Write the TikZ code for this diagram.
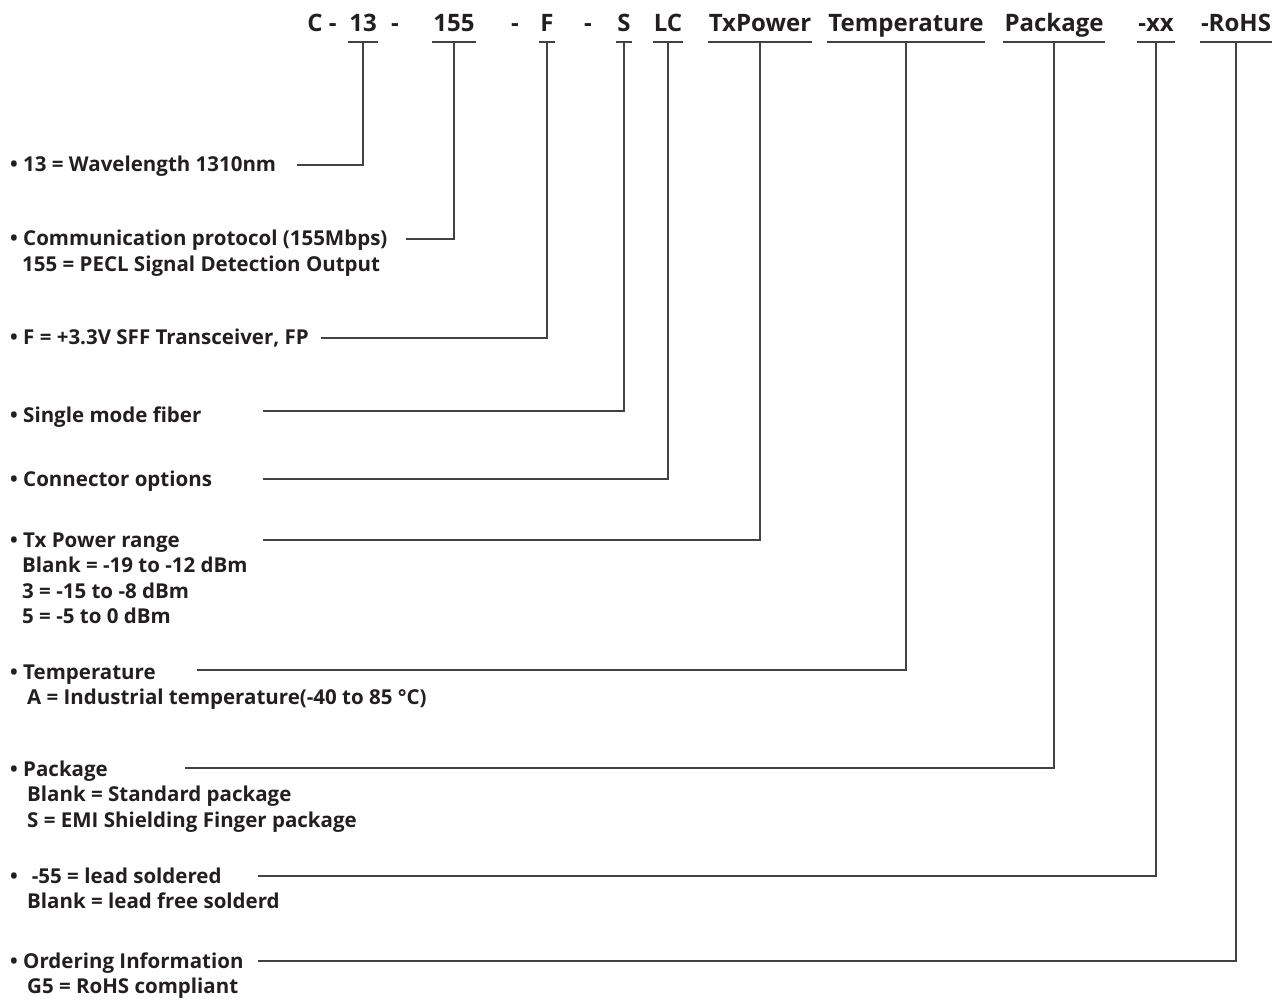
\documentclass[tikz,border=0pt]{standalone}
\usepackage{fontspec}
\setmainfont{Open Sans}
\definecolor{inkcolor}{HTML}{231F20}
\tikzset{
  hdr/.style={font=\fontsize{24}{28}\selectfont\bfseries, text=inkcolor, inner xsep=1pt, inner ysep=0pt, anchor=base},
  desc/.style={font=\fontsize{20.5}{25}\selectfont\bfseries, text=inkcolor, inner sep=0pt, anchor=base west},
  lead/.style={draw=inkcolor!85, line width=1.4pt},
}
\begin{document}
\begin{tikzpicture}[x=1pt,y=-1pt]
\useasboundingbox (0,0) rectangle (1281,999);

% part number
\node[hdr] (hC) at (322,31) {C -};
\node[hdr] (h13) at (363,31) {13};
\node[hdr] (hd1) at (395,31) {-};
\node[hdr] (h155) at (454,31) {155};
\node[hdr] (hd2) at (515,31) {-};
\node[hdr] (hF) at (547,31) {F};
\node[hdr] (hd3) at (588,31) {-};
\node[hdr] (hS) at (624,31) {S};
\node[hdr] (hLC) at (668,31) {LC};
\node[hdr] (hTx) at (760,31) {TxPower};
\node[hdr] (hTemp) at (906,31) {Temperature};
\node[hdr] (hPkg) at (1054,31) {Package};
\node[hdr] (hxx) at (1156,31) {-xx};
\node[hdr] (hRoHS) at (1236,31) {-RoHS};

\foreach \h in {h13,h155,hF,hS,hLC,hTx,hTemp,hPkg,hxx,hRoHS}
  \draw[lead] ([yshift=-11pt]\h.base west) -- ([yshift=-11pt]\h.base east);

% options
\node[desc] (d1) at (10,171) {• 13 = Wavelength 1310nm};
\node[desc] (d2) at (10,245) {• Communication protocol (155Mbps)};
\node[desc] (d2b) at (22,271) {155 = PECL Signal Detection Output};
\node[desc] (d3) at (10,344) {• F = +3.3V SFF Transceiver, FP};
\node[desc] (d4) at (10,422) {• Single mode fiber};
\node[desc] (d5) at (10,486) {• Connector options};
\node[desc] (d6) at (10,547) {• Tx Power range};
\node[desc] (d6b) at (22,572) {Blank = -19 to -12 dBm};
\node[desc] (d6c) at (22,598) {3 = -15 to -8 dBm};
\node[desc] (d6d) at (22,623) {5 = -5 to 0 dBm};
\node[desc] (d7) at (10,679) {• Temperature};
\node[desc] (d7b) at (27,704) {A = Industrial temperature(-40 to 85 °C)};
\node[desc] (d8) at (10,776) {• Package};
\node[desc] (d8b) at (27,801) {Blank = Standard package};
\node[desc] (d8c) at (27,827) {S = EMI Shielding Finger package};
\node[desc] (d9) at (10,883) {•\hspace{14pt}-55 = lead soldered};
\node[desc] (d9b) at (27,908) {Blank = lead free solderd};
\node[desc] (d10) at (10,968) {• Ordering Information};
\node[desc] (d10b) at (27,993) {G5 = RoHS compliant};

% leader lines
\coordinate (s1) at (297,165);
\coordinate (s2) at (406,239);
\coordinate (s3) at (321,338);
\coordinate (s4) at (263,411);
\coordinate (s5) at (263,479);
\coordinate (s6) at (263,540);
\coordinate (s7) at (197,670);
\coordinate (s8) at (185,768);
\coordinate (s9) at (258,876);
\coordinate (s10) at (258,961);
\draw[lead] (s1) -| ([yshift=-11pt]h13.base);
\draw[lead] (s2) -| ([yshift=-11pt]h155.base);
\draw[lead] (s3) -| ([yshift=-11pt]hF.base);
\draw[lead] (s4) -| ([yshift=-11pt]hS.base);
\draw[lead] (s5) -| ([yshift=-11pt]hLC.base);
\draw[lead] (s6) -| ([yshift=-11pt]hTx.base);
\draw[lead] (s7) -| ([yshift=-11pt]hTemp.base);
\draw[lead] (s8) -| ([yshift=-11pt]hPkg.base);
\draw[lead] (s9) -| ([yshift=-11pt]hxx.base);
\draw[lead] (s10) -| ([yshift=-11pt]hRoHS.base);
\end{tikzpicture}
\end{document}
